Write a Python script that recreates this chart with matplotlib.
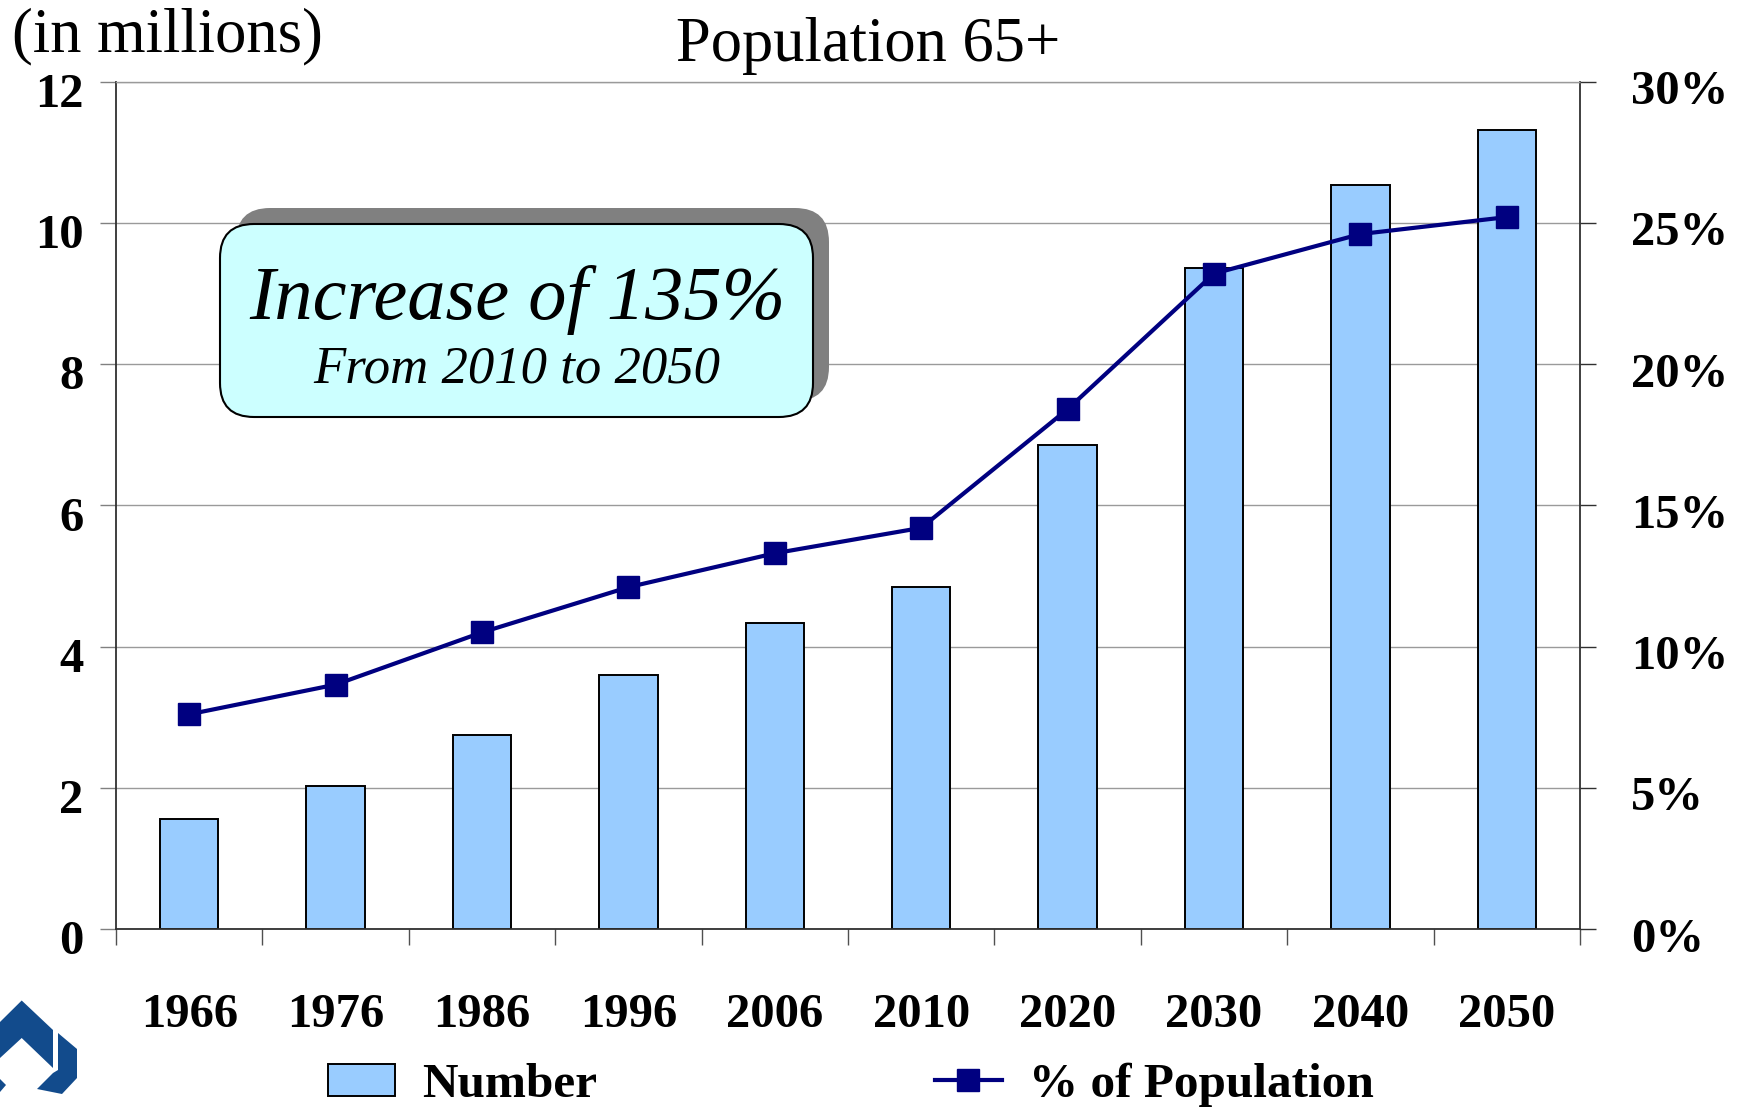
import numpy as np
import matplotlib
matplotlib.use("Agg")
import matplotlib.pyplot as plt
from matplotlib.patches import FancyBboxPatch, Polygon, Patch
from matplotlib.lines import Line2D
from matplotlib.ticker import FuncFormatter
from matplotlib.transforms import Affine2D, ScaledTranslation

# ---- data -------------------------------------------------------------
years = ["1966", "1976", "1986", "1996", "2006", "2010", "2020", "2030", "2040", "2050"]
number_millions = [1.56, 2.03, 2.75, 3.59, 4.33, 4.84, 6.86, 9.36, 10.54, 11.32]
pct_population = [7.6, 8.65, 10.5, 12.1, 13.3, 14.2, 18.4, 23.2, 24.6, 25.2]
left_ticks = [0, 2, 4, 6, 8, 10, 12]
right_ticks = [0, 5, 10, 15, 20, 25, 30]

SERIF = "Liberation Serif"
BAR_FILL = "#99CCFF"
LINE_COL = "#000080"

W, H, DPI = 1742, 1110, 100
fig = plt.figure(figsize=(W / DPI, H / DPI), dpi=DPI)
fig.patch.set_facecolor("white")

# pixel (top-left origin) -> display transform
px = Affine2D().scale(1 / DPI) + fig.dpi_scale_trans
def P(x, y):
    return (x, H - y)

ax = fig.add_axes([116 / W, 1 - 929 / H, (1580 - 116) / W, (929 - 81.5) / H])
x = np.arange(len(years))

ax.bar(x, number_millions, width=0.4, color=BAR_FILL, edgecolor="black",
       linewidth=1.4, zorder=2)
ax.set_xlim(-0.5, len(years) - 0.5)
ax.set_ylim(0, 12)
ax.set_yticks(left_ticks)
ax.grid(axis="y", color="#9a9a9a", linewidth=1.0, zorder=0)
ax.set_axisbelow(True)

for s in ["left", "bottom", "right"]:
    ax.spines[s].set_color("#303030")
    ax.spines[s].set_linewidth(1.3)
ax.spines["top"].set_color("#9a9a9a")
ax.spines["top"].set_linewidth(1.0)

# category boundary ticks, labels centred under bars
ax.set_xticks(np.arange(-0.5, len(years), 1.0))
ax.set_xticklabels([])
ax.set_xticks(x, minor=True)
ax.set_xticklabels(years, minor=True)
ax.tick_params(axis="x", which="major", direction="out", length=11.5,
               width=1.0, color="#505050")
ax.tick_params(axis="x", which="minor", length=0, pad=46)
ax.tick_params(axis="y", direction="out", length=11.5, width=1.0,
               color="#808080", pad=12)

for lab in ax.get_xticklabels(minor=True):
    lab.set_fontfamily(SERIF)
    lab.set_fontweight("bold")
    lab.set_fontsize(35)
for lab in ax.get_yticklabels():
    lab.set_fontfamily(SERIF)
    lab.set_fontweight("bold")
    lab.set_fontsize(35)
    lab.set_transform(lab.get_transform() + ScaledTranslation(0, -6 / 72, fig.dpi_scale_trans))

# percentage axis
ax2 = ax.twinx()
ax2.plot(x, pct_population, color=LINE_COL, linewidth=3.0, marker="s",
         markersize=15.5, markerfacecolor=LINE_COL, markeredgecolor=LINE_COL,
         zorder=3)
ax2.set_ylim(0, 30)
ax2.set_yticks(right_ticks)
ax2.yaxis.set_major_formatter(FuncFormatter(lambda v, _: f"{v:.0f}%"))
ax2.tick_params(axis="y", direction="out", length=11.5, width=1.0,
                color="#303030", pad=25)
for s in ax2.spines.values():
    s.set_visible(False)
for lab in ax2.get_yticklabels():
    lab.set_fontfamily(SERIF)
    lab.set_fontweight("bold")
    lab.set_fontsize(35)
    lab.set_transform(lab.get_transform() + ScaledTranslation(0, -4 / 72, fig.dpi_scale_trans))

# titles
fig.text(12 / W, 1 - 36 / H, "(in millions)", fontfamily=SERIF, fontsize=45,
         ha="left", va="center")
fig.text(868 / W, 1 - 46 / H, "Population 65+", fontfamily=SERIF, fontsize=45,
         ha="center", va="center")

# callout box with offset shadow
bx0, by0, bx1, by1 = 220, 224, 813, 417
shadow = FancyBboxPatch(P(bx0 + 16, by1 - 16), bx1 - bx0, by1 - by0,
                        boxstyle="round,pad=0,rounding_size=34",
                        facecolor="#808080", edgecolor="none",
                        transform=px, zorder=2)
box = FancyBboxPatch(P(bx0, by1), bx1 - bx0, by1 - by0,
                     boxstyle="round,pad=0,rounding_size=34",
                     facecolor="#CCFFFF", edgecolor="black", linewidth=1.5,
                     transform=px, zorder=3)
fig.add_artist(shadow)
fig.add_artist(box)
fig.text(517 / W, 1 - 300 / H, "Increase of 135%", fontfamily=SERIF,
         style="italic", fontsize=55, ha="center", va="center", zorder=4)
fig.text(517 / W, 1 - 370 / H, "From 2010 to 2050", fontfamily=SERIF,
         style="italic", fontsize=38, ha="center", va="center", zorder=4)

# legend
handles = [
    Patch(facecolor=BAR_FILL, edgecolor="black", linewidth=1.4),
    Line2D([0], [0], color=LINE_COL, linewidth=3.0, marker="s",
           markersize=15.5, markerfacecolor=LINE_COL, markeredgecolor=LINE_COL),
]
leg = fig.legend(handles, ["Number", "% of Population"], ncol=2,
                 loc="center left", bbox_to_anchor=(328 / W, 1 - 1085 / H),
                 frameon=False, borderpad=0, borderaxespad=0,
                 handlelength=1.36, handleheight=0.64, handletextpad=0.55,
                 columnspacing=6.85,
                 prop={"family": SERIF, "weight": "bold", "size": 35.5})

# corner logo
LOGO = "#124b8c"
logo_parts = [
    [(0, 1022), (21.7, 1000.5), (53, 1030), (53, 1068), (21.7, 1038), (0, 1058)],
    [(58, 1033), (77, 1049), (77, 1078), (62, 1094), (37, 1089), (53, 1073), (58, 1070)],
    [(0, 1079), (6, 1085), (0, 1092)],
]
for pts in logo_parts:
    fig.add_artist(Polygon([P(a, b) for a, b in pts], closed=True,
                           facecolor=LOGO, edgecolor="none", transform=px))

fig.savefig("out.png", dpi=DPI, facecolor="white")
